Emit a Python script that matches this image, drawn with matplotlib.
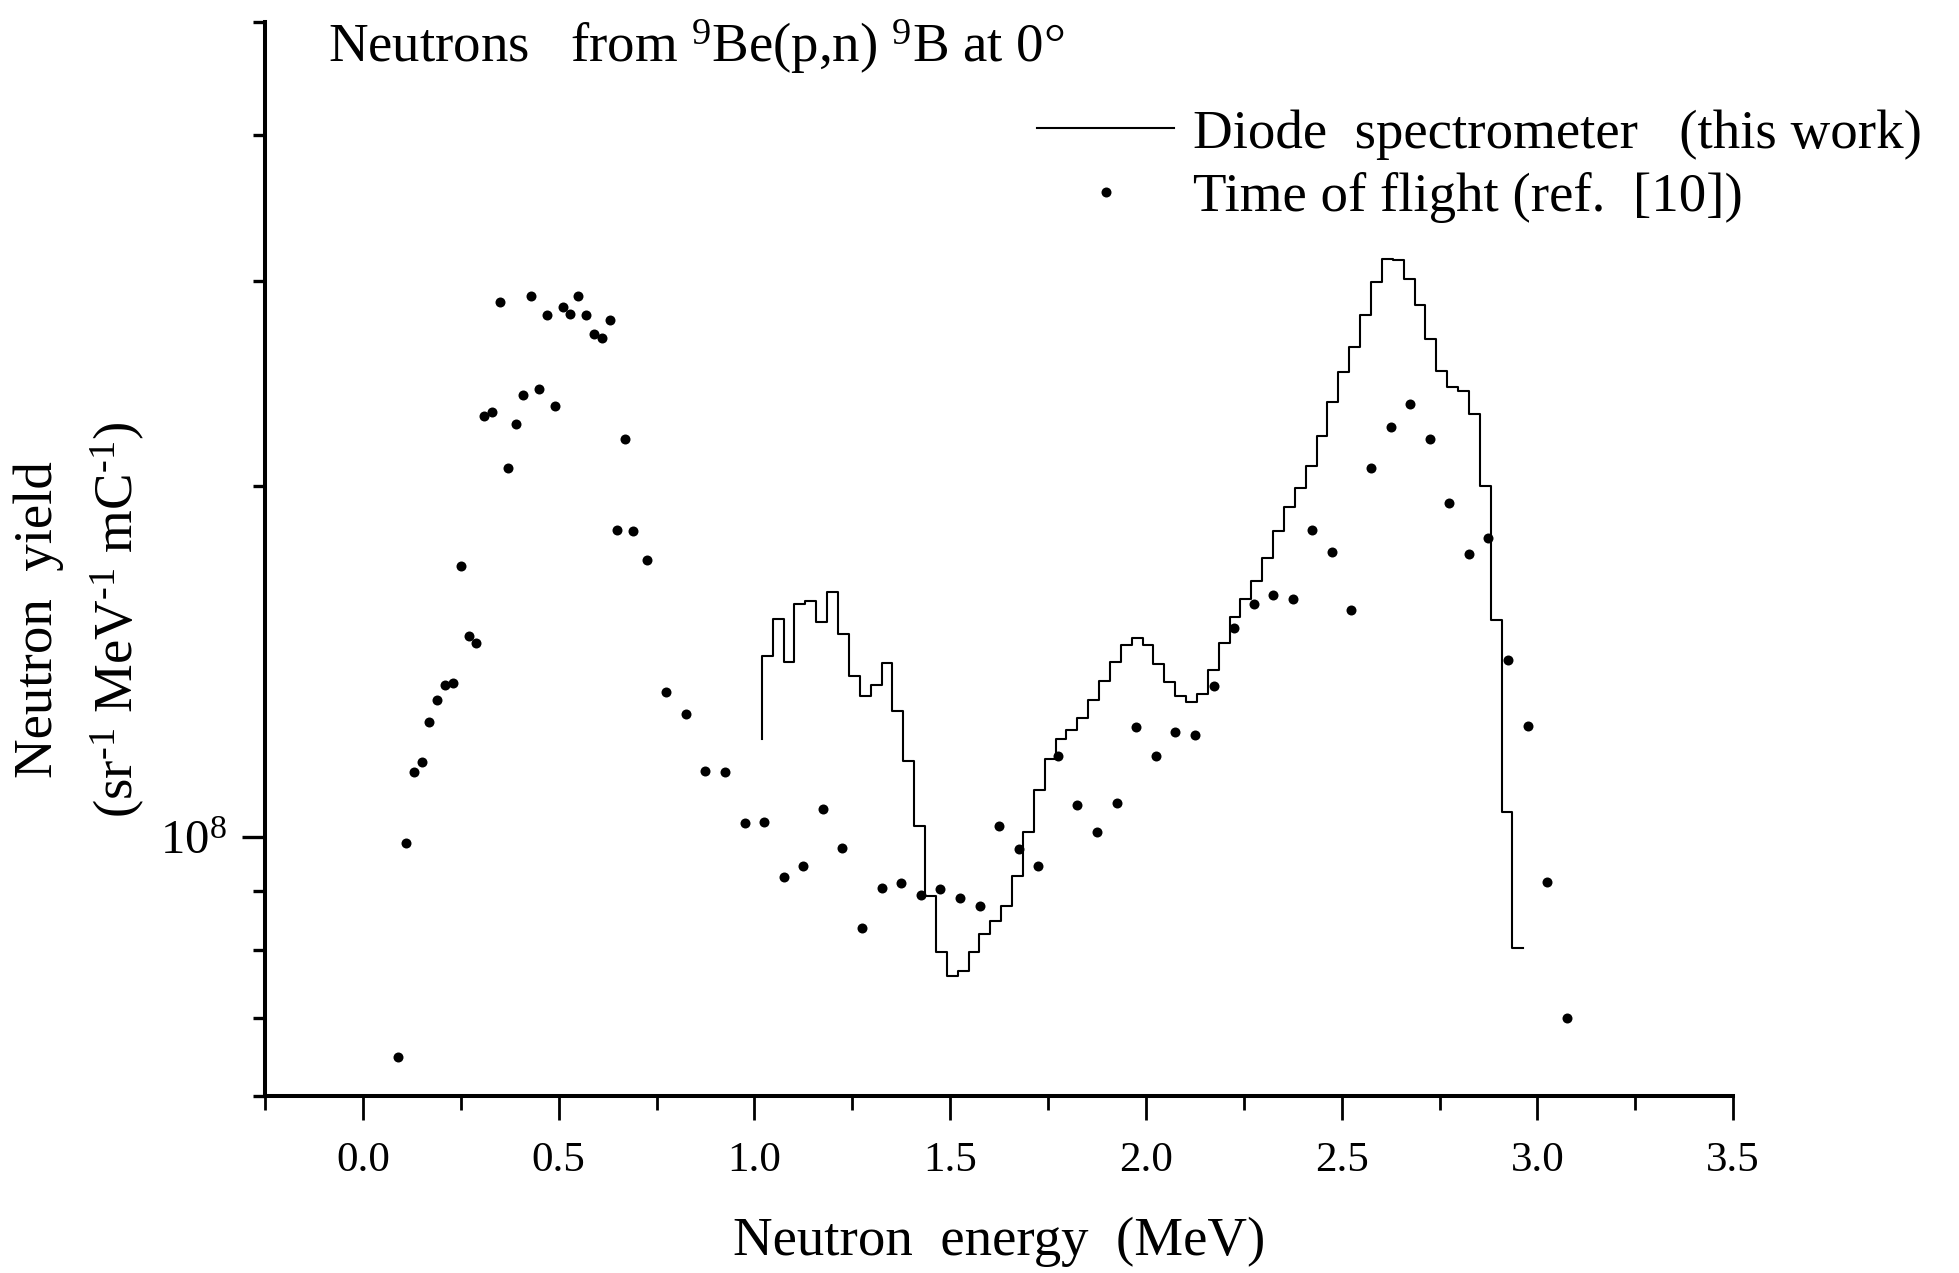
import numpy as np
import matplotlib
matplotlib.use("Agg")
import matplotlib.pyplot as plt
from matplotlib.lines import Line2D
from matplotlib.ticker import FixedLocator, NullFormatter

# diode spectrometer histogram: equal channels from e_start to e_stop (MeV)
diode_e_start = 1.019
diode_e_stop = 2.964
diode_first_edge = 1.214e8
diode_yield = [
    1.430e8, 1.540e8, 1.413e8, 1.585e8, 1.593e8, 1.530e8, 1.622e8, 1.493e8,
    1.375e8, 1.322e8, 1.352e8, 1.411e8, 1.284e8, 1.163e8, 1.023e8, 8.90e7,
    7.97e7, 7.60e7, 7.68e7, 7.98e7, 8.27e7, 8.48e7, 8.74e7, 9.26e7,
    1.011e8, 1.098e8, 1.167e8, 1.214e8, 1.236e8, 1.266e8, 1.312e8, 1.362e8,
    1.414e8, 1.462e8, 1.483e8, 1.462e8, 1.407e8, 1.360e8, 1.322e8, 1.306e8,
    1.328e8, 1.391e8, 1.468e8, 1.546e8, 1.602e8, 1.660e8, 1.737e8, 1.831e8,
    1.919e8, 1.994e8, 2.083e8, 2.210e8, 2.362e8, 2.508e8, 2.634e8, 2.804e8,
    2.994e8, 3.129e8, 3.123e8, 3.008e8, 2.859e8, 2.676e8, 2.511e8, 2.432e8,
    2.414e8, 2.305e8, 2.000e8, 1.537e8, 1.052e8, 8.04e7,
]

# time of flight points, ref. [10]
tof_energy = [
    0.09, 0.11, 0.13, 0.15, 0.17, 0.19, 0.21, 0.23, 0.25, 0.27, 0.29,
    0.31, 0.33, 0.35, 0.37, 0.39, 0.41, 0.43, 0.45, 0.47, 0.49, 0.51,
    0.53, 0.55, 0.57, 0.59, 0.61, 0.63, 0.65, 0.67, 0.69,
    0.725, 0.775, 0.825, 0.875, 0.925, 0.975, 1.025, 1.075, 1.125, 1.175,
    1.225, 1.275, 1.325, 1.375, 1.425, 1.475, 1.525, 1.575, 1.625, 1.675,
    1.725, 1.775, 1.825, 1.875, 1.925, 1.975, 2.025, 2.075, 2.125, 2.175,
    2.225, 2.275, 2.325, 2.375, 2.425, 2.475, 2.525, 2.575, 2.625, 2.675,
    2.725, 2.775, 2.825, 2.875, 2.925, 2.975, 3.025, 3.075,
]
tof_yield = [
    6.48e7, 9.88e7, 1.138e8, 1.160e8, 1.255e8, 1.312e8, 1.352e8, 1.356e8,
    1.709e8, 1.487e8, 1.467e8, 2.295e8, 2.316e8, 2.875e8, 2.074e8, 2.261e8,
    2.396e8, 2.913e8, 2.423e8, 2.802e8, 2.343e8, 2.849e8, 2.807e8, 2.910e8,
    2.804e8, 2.703e8, 2.678e8, 2.779e8, 1.834e8, 2.194e8, 1.829e8,
    1.729e8, 1.331e8, 1.275e8, 1.139e8, 1.138e8, 1.029e8, 1.030e8, 9.24e7,
    9.44e7, 1.058e8, 9.80e7, 8.36e7, 9.05e7, 9.13e7, 8.92e7, 9.03e7,
    8.87e7, 8.74e7, 1.023e8, 9.77e7, 9.44e7, 1.175e8, 1.065e8, 1.010e8,
    1.070e8, 1.244e8, 1.175e8, 1.230e8, 1.223e8, 1.348e8, 1.512e8, 1.584e8,
    1.612e8, 1.602e8, 1.834e8, 1.757e8, 1.567e8, 2.075e8, 2.249e8, 2.351e8,
    2.197e8, 1.934e8, 1.750e8, 1.805e8, 1.420e8, 1.245e8, 9.16e7, 7.00e7,
]

x_ticks = [0.0, 0.5, 1.0, 1.5, 2.0, 2.5, 3.0, 3.5]
x_minor = [-0.25, 0.25, 0.75, 1.25, 1.75, 2.25, 2.75, 3.25]
y_minor = [6e7, 7e7, 8e7, 9e7, 2e8, 3e8, 4e8, 5e8]


plt.rcParams['font.family'] = ['Liberation Serif', 'DejaVu Serif']
plt.rcParams['mathtext.fontset'] = 'custom'
plt.rcParams['mathtext.rm'] = 'Liberation Serif'
plt.rcParams['mathtext.it'] = 'Liberation Serif:italic'
plt.rcParams['mathtext.bf'] = 'Liberation Serif:bold'

big = 39.5

fig = plt.figure(figsize=(19.59, 12.73), dpi=100)
ax = fig.add_axes([0.1353, 0.1390, 0.7494, 0.8437])

edges = np.linspace(diode_e_start, diode_e_stop, len(diode_yield) + 1)
ax.step(edges, np.r_[diode_first_edge, diode_yield], where='pre',
        color='black', lw=1.5)
ax.plot(tof_energy, tof_yield, 'o', color='black', ms=7.2, mew=0)

ax.set_yscale('log')
ax.set_xlim(-0.25, 3.5)
ax.set_ylim(6e7, 5e8)

for s in ['top', 'right']:
    ax.spines[s].set_visible(False)
for s in ['left', 'bottom']:
    ax.spines[s].set_linewidth(2.9)

ax.set_xticks(x_ticks, ['%.1f' % v for v in x_ticks])
ax.xaxis.set_minor_locator(FixedLocator(x_minor))
ax.set_yticks([1e8], [r'$10^{8}$'])
ax.yaxis.set_minor_locator(FixedLocator(y_minor))
ax.yaxis.set_minor_formatter(NullFormatter())

ax.tick_params(axis='x', which='major', direction='out', length=17, width=2.0,
               labelsize=31, pad=16)
ax.tick_params(axis='x', which='minor', direction='out', length=10, width=2.0)
ax.tick_params(axis='y', which='major', direction='out', length=16.5, width=2.4,
               labelsize=35, pad=11)
ax.tick_params(axis='y', which='minor', direction='out', length=8.6, width=2.4)

ax.set_xlabel('Neutron  energy  (MeV)', fontsize=big)
ax.xaxis.set_label_coords(0.5, -0.112)

fig.text(80 / 1959, 1 - 620 / 1273,
         'Neutron  yield\n' + r'(sr$^{\text{-}1}$ MeV$^{\text{-}1}$ mC$^{\text{-}1}$)',
         rotation=90, ha='center', va='center', multialignment='center',
         fontsize=big, linespacing=1.56)

fig.text(328 / 1959, 1 - 62 / 1273,
         r'Neutrons   from $^{9}$Be(p,n) $^{9}$B at 0°',
         ha='left', va='baseline', fontsize=big)

handles = [Line2D([], [], color='black', lw=1.5),
           Line2D([], [], ls='none', marker='o', color='black', ms=7.2, mew=0)]
labels = ['Diode  spectrometer   (this work)', 'Time of flight (ref.  [10])']
fig.legend(handles, labels, loc='upper left',
           bbox_to_anchor=(1037 / 1959, 1 - 109 / 1273),
           frameon=False, fontsize=big, handlelength=2.5, handletextpad=0.35,
           borderpad=0, borderaxespad=0, labelspacing=0.23, numpoints=1)

fig.savefig('out.png', dpi=100)
